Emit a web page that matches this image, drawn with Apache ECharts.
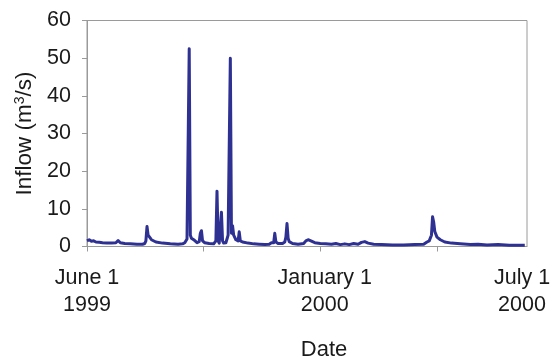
<!DOCTYPE html>
<html>
<head>
<meta charset="utf-8">
<script src="https://cdn.jsdelivr.net/npm/echarts@6/dist/echarts.min.js"></script>
<style>
  html, body { margin: 0; padding: 0; background: #fff; }
  #chart { width: 550px; height: 358px; }
</style>
</head>
<body>
<div id="chart"></div>
<script>
// Daily reservoir inflow, days counted from June 1 1999 (day 0) to July 1 2000 (day 396)
const days = [
  0, 2, 4, 6, 8, 11, 14, 18, 22, 26, 28, 30, 34, 39, 45, 50, 52, 53, 54, 55, 56, 58, 62, 68, 75, 82,
  86, 88, 90, 91, 92, 93, 94, 96, 99, 101, 102, 103, 104, 106, 110, 114, 116, 117, 118, 119, 120, 121,
  122, 123, 125, 126, 127, 128, 129, 130, 131, 132, 133, 134, 136, 137, 138, 140, 145, 150, 155, 160,
  164, 166, 168, 169, 170, 172, 176, 178, 179, 180, 181, 182, 185, 190, 195, 197, 199, 202, 205, 210,
  215, 220, 224, 228, 232, 236, 240, 244, 247, 250, 253, 258, 265, 275, 285, 295, 303, 306, 308, 310,
  311, 312, 313, 315, 318, 322, 328, 336, 345, 352, 360, 370, 380, 394
];
const inflow = [
  1.5, 1.8, 1.4, 1.5, 1.2, 1.1, 1.0, 0.9, 0.9, 1.0, 1.6, 1.0, 0.8, 0.7, 0.6, 0.6, 0.8, 1.5, 5.3, 3.0,
  2.5, 1.8, 1.2, 0.9, 0.7, 0.6, 0.7, 1.0, 2.0, 2.5, 52.5, 3.0, 2.2, 1.8, 1.0, 1.3, 3.5, 4.2, 1.5, 1.0,
  0.8, 0.7, 1.5, 14.7, 1.5, 0.9, 1.2, 9.1, 1.5, 0.9, 1.0, 2.0, 3.0, 2.8, 50.0, 3.5, 5.5, 3.0, 2.5, 1.8,
  1.5, 3.9, 1.5, 1.2, 0.9, 0.7, 0.6, 0.5, 0.6, 1.0, 1.0, 3.5, 1.2, 0.8, 0.8, 1.2, 2.5, 6.1, 2.2, 1.3,
  0.8, 0.6, 0.8, 1.5, 1.8, 1.4, 1.0, 0.8, 0.7, 0.6, 0.8, 0.5, 0.7, 0.5, 0.8, 0.6, 1.1, 1.3, 0.9, 0.6,
  0.5, 0.4, 0.4, 0.5, 0.6, 1.2, 1.5, 3.0, 7.9, 6.5, 4.0, 2.5, 1.8, 1.2, 0.9, 0.7, 0.5, 0.6, 0.4, 0.5,
  0.3, 0.3
];
const yTicks = [0, 10, 20, 30, 40, 50, 60];
const xTickDays = [0, 105, 210, 315];
const xLabelDays = [0, 214, 396];
const xLabelText = ['June 1\n1999', 'January 1\n2000', 'July 1\n2000'];

const series = days.map((d, i) => [d, inflow[i]]);
const font = 'Liberation Sans, Arial, sans-serif';
const axisGray = '#9a9a9a';
const ink = '#1a1a1a';
const labelStyle = { color: ink, fontSize: 21.5, fontFamily: font, lineHeight: 27 };

const chart = echarts.init(document.getElementById('chart'), null, { renderer: 'canvas' });
chart.setOption({
  animation: false,
  backgroundColor: '#fff',
  grid: {
    left: 87, right: 23, top: 20.5, bottom: 111.5,
    show: true, borderColor: axisGray, borderWidth: 1,
    containLabel: false, outerBoundsMode: 'none'
  },
  xAxis: {
    type: 'value',
    min: 0, max: 396, interval: 105,
    axisLine: { show: true, lineStyle: { color: axisGray, width: 1 } },
    axisTick: { show: true, inside: false, length: 5, customValues: xTickDays, lineStyle: { color: axisGray } },
    splitLine: { show: false },
    axisLabel: {
      customValues: xLabelDays,
      formatter: v => {
        const i = xLabelDays.indexOf(v);
        if (i < 0) return '';
        // the last date sits at the right edge, nudge it inward a little
        return i === xLabelDays.length - 1
          ? xLabelText[i].split('\n').map(s => '{end|' + s + '}').join('\n')
          : xLabelText[i];
      },
      ...labelStyle,
      margin: 18,
      rich: { end: { ...labelStyle, padding: [0, 10, 0, 0] } }
    }
  },
  yAxis: {
    type: 'value',
    min: yTicks[0], max: yTicks[yTicks.length - 1], interval: 10,
    axisLine: { show: true, lineStyle: { color: axisGray, width: 1 } },
    axisTick: { show: true, inside: false, length: 5, lineStyle: { color: axisGray } },
    splitLine: { show: false },
    axisLabel: { color: ink, fontSize: 21.5, fontFamily: font, margin: 16 },
    name: 'Inflow (m{sup|3}/s)',
    nameLocation: 'middle',
    nameGap: 48,
    nameTextStyle: {
      color: ink, fontSize: 22.5, fontFamily: font,
      rich: { sup: { fontSize: 14, verticalAlign: 'top', padding: [0, 0, 10, 0], color: ink, fontFamily: font } }
    }
  },
  graphic: [{
    type: 'text', x: 324, y: 350,
    style: { text: 'Date', fontSize: 22, fontFamily: font, fill: ink, align: 'center', verticalAlign: 'middle' }
  }],
  series: [{
    type: 'line',
    data: series,
    showSymbol: false,
    lineStyle: { color: '#2E3192', width: 3, join: 'round' },
    itemStyle: { color: '#2E3192' }
  }]
});
</script>
</body>
</html>
